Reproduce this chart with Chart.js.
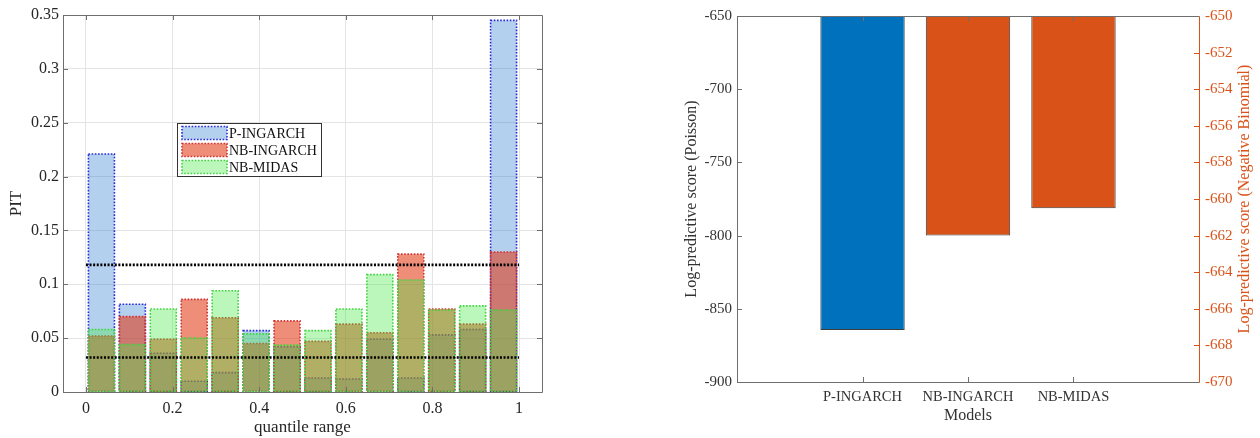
<!DOCTYPE html>
<html>
<head>
<meta charset="utf-8">
<script src="https://cdn.jsdelivr.net/npm/chart.js@4.4.1/dist/chart.umd.min.js"></script>
<style>
  html, body { margin: 0; padding: 0; background: #fff; }
  #wrap { position: relative; width: 1260px; height: 438px; }
  #pitBox { position: absolute; left: 0; top: 0; width: 600px; height: 438px; }
  #scoreBox { position: absolute; left: 660px; top: 0; width: 600px; height: 438px; }
</style>
</head>
<body>
<div id="wrap">
  <div id="pitBox"><canvas id="pit"></canvas></div>
  <div id="scoreBox"><canvas id="score"></canvas></div>
</div>
<script>
// ---------- PIT histogram data (14 equal bins on [0,1]) ----------
const binCount = 14;
const pitP     = [0.221, 0.0815, 0.036, 0.010, 0.018, 0.057, 0.042, 0.013, 0.012, 0.049, 0.013, 0.053, 0.058, 0.345];
const pitNB    = [0.052, 0.070, 0.049, 0.086, 0.069, 0.045, 0.066, 0.047, 0.063, 0.055, 0.128, 0.077, 0.063, 0.130];
const pitMidas = [0.058, 0.044, 0.077, 0.050, 0.094, 0.054, 0.0435, 0.057, 0.077, 0.109, 0.104, 0.076, 0.080, 0.076];
const pitBounds = [0.118, 0.032];
const pitSpan = [0, 1];
const pitXTicks = [0, 0.2, 0.4, 0.6, 0.8, 1];
const pitYTicks = [0, 0.05, 0.1, 0.15, 0.2, 0.25, 0.3, 0.35];

// ---------- log-predictive scores ----------
const models = ["P-INGARCH", "NB-INGARCH", "NB-MIDAS"];
const scorePoisson = [-864.5, null, null];
const scoreNegBin  = [null, -662.0, -660.5];
const poissonTicks = [-900, -850, -800, -750, -700, -650];
const negBinTicks  = [-670, -668, -666, -664, -662, -660, -658, -656, -654, -652, -650];

const ORANGE = "#d95319";
const AXIS = "#6e6e6e";
Chart.defaults.font.family = "'Liberation Serif', 'DejaVu Serif', serif";
Chart.defaults.color = "#262626";

// dotted bar outlines (bar elements have no borderDash of their own)
const dottedEdges = {
  id: "dottedEdges",
  afterDatasetDraw(chart, args) {
    const ds = chart.data.datasets[args.index];
    if (!ds.edgeColor) return;
    const ctx = chart.ctx;
    const a = chart.chartArea;
    ctx.save();
    ctx.beginPath();
    ctx.rect(a.left, a.top, a.right - a.left, a.bottom - a.top);
    ctx.clip();
    ctx.strokeStyle = ds.edgeColor;
    ctx.lineWidth = 1.6;
    ctx.setLineDash([1.6, 1.6]);
    args.meta.data.forEach(bar => {
      const p = bar.getProps(["x", "y", "base", "width"], true);
      ctx.strokeRect(p.x - p.width / 2, Math.min(p.y, p.base), p.width, Math.abs(p.base - p.y));
    });
    ctx.restore();
  }
};

// MATLAB style box + inward tick marks
const boxFrame = {
  id: "boxFrame",
  afterDraw(chart, args, opts) {
    const ctx = chart.ctx;
    const a = chart.chartArea;
    ctx.save();
    ctx.lineWidth = 1;
    (opts.marks || []).forEach(m => {
      const sc = chart.scales[m.scale];
      ctx.strokeStyle = m.color;
      sc.ticks.forEach(t => {
        const p = Math.round(sc.getPixelForValue(t.value)) + 0.5;
        ctx.beginPath();
        if (m.side === "left") { ctx.moveTo(a.left, p); ctx.lineTo(a.left + 5, p); }
        else if (m.side === "right") { ctx.moveTo(a.right, p); ctx.lineTo(a.right - 5, p); }
        else if (m.side === "bottom") { ctx.moveTo(p, a.bottom); ctx.lineTo(p, a.bottom - 5); }
        else { ctx.moveTo(p, a.top); ctx.lineTo(p, a.top + 5); }
        ctx.stroke();
      });
    });
    const f = opts.frame || {};
    const L = Math.round(a.left) + 0.5, R = Math.round(a.right) + 0.5;
    const T = Math.round(a.top) + 0.5, B = Math.round(a.bottom) + 0.5;
    [["top", L, T, R, T], ["bottom", L, B, R, B], ["left", L, T, L, B], ["right", R, T, R, B]].forEach(s => {
      if (!f[s[0]]) return;
      ctx.strokeStyle = f[s[0]];
      ctx.beginPath(); ctx.moveTo(s[1], s[2]); ctx.lineTo(s[3], s[4]); ctx.stroke();
    });
    ctx.restore();
  }
};

// legend box placed inside the plot
const boxLegend = {
  id: "boxLegend",
  afterDraw(chart, args, opts) {
    if (!opts.show) return;
    const ctx = chart.ctx;
    const items = chart.data.datasets.filter(d => d.edgeColor);
    ctx.save();
    ctx.fillStyle = "#fff";
    ctx.fillRect(opts.x, opts.y, opts.w, opts.h);
    ctx.strokeStyle = "#333";
    ctx.lineWidth = 1;
    ctx.strokeRect(opts.x + 0.5, opts.y + 0.5, opts.w, opts.h);
    ctx.font = "14px 'Liberation Serif', serif";
    ctx.textBaseline = "middle";
    items.forEach((d, i) => {
      const cy = opts.y + 10 + i * 17;
      ctx.fillStyle = d.backgroundColor;
      ctx.fillRect(opts.x + 5, cy - 6.5, 45, 13);
      ctx.strokeStyle = d.edgeColor;
      ctx.lineWidth = 1.6;
      ctx.setLineDash([1.6, 1.6]);
      ctx.strokeRect(opts.x + 5, cy - 6.5, 45, 13);
      ctx.setLineDash([]);
      ctx.fillStyle = "#111";
      ctx.fillText(d.label, opts.x + 52, cy + 1);
    });
    ctx.restore();
  }
};

// right-hand axis title reading bottom-to-top like MATLAB yyaxis
const sideTitle = {
  id: "sideTitle",
  afterDraw(chart, args, opts) {
    if (!opts.text) return;
    const ctx = chart.ctx;
    const a = chart.chartArea;
    ctx.save();
    ctx.translate(opts.x, (a.top + a.bottom) / 2);
    ctx.rotate(-Math.PI / 2);
    ctx.font = "16px 'Liberation Serif', serif";
    ctx.fillStyle = opts.color;
    ctx.textAlign = "center";
    ctx.textBaseline = "middle";
    ctx.fillText(opts.text, 0, 0);
    ctx.restore();
  }
};

//
// ==========  PIT histogram  ==========
//
const binCentre = i => (i + 0.5) / binCount;
const toPoints = arr => arr.map((v, i) => ({ x: binCentre(i), y: v }));

new Chart(document.getElementById("pit"), {
  type: "bar",
  plugins: [dottedEdges, boxFrame, boxLegend],
  data: {
    datasets: [
      { label: "P-INGARCH", data: toPoints(pitP), backgroundColor: "rgba(40,120,210,0.35)", edgeColor: "#2a2ad6", order: 3 },
      { label: "NB-INGARCH", data: toPoints(pitNB), backgroundColor: "rgba(225,50,10,0.55)", edgeColor: "#d23232", order: 2 },
      { label: "NB-MIDAS", data: toPoints(pitMidas), backgroundColor: "rgba(70,230,70,0.37)", edgeColor: "#3ed63e", order: 1 },
      ...pitBounds.map(b => ({
        type: "line",
        data: pitSpan.map(x => ({ x, y: b })),
        borderColor: "#000",
        borderWidth: 2.6,
        borderDash: [2, 1.6],
        pointRadius: 0,
        order: 0
      }))
    ]
  },
  options: {
    responsive: true,
    maintainAspectRatio: false,
    animation: false,
    devicePixelRatio: 1,
    layout: { padding: { top: 15, right: 58, left: 0, bottom: 0 } },
    datasets: { bar: { grouped: false, categoryPercentage: 1, barPercentage: 0.84, borderWidth: 0 } },
    plugins: {
      legend: { display: false },
      tooltip: { enabled: false },
      boxLegend: { show: true, x: 177, y: 123, w: 144, h: 53 },
      boxFrame: {
        frame: { top: AXIS, bottom: AXIS, left: AXIS, right: AXIS },
        marks: [
          { scale: "y", side: "left", color: AXIS }, { scale: "y", side: "right", color: AXIS },
          { scale: "x", side: "bottom", color: AXIS }, { scale: "x", side: "top", color: AXIS }
        ]
      }
    },
    scales: {
      x: {
        type: "linear", min: -0.053, max: 1.053, offset: false,
        grid: { offset: false, color: "#e4e4e4", drawTicks: false },
        border: { display: false },
        ticks: { padding: 7, font: { size: 16 }, callback: v => String(v) },
        afterBuildTicks: ax => { ax.ticks = pitXTicks.map(v => ({ value: v })); },
        afterFit: ax => { ax.height = 46; },
        title: { display: true, text: "quantile range", font: { size: 17 }, padding: { top: 0, bottom: 0 } }
      },
      y: {
        min: 0, max: 0.35,
        grid: { color: "#e4e4e4", drawTicks: false },
        border: { display: false },
        ticks: { padding: 4, font: { size: 16 }, callback: v => String(v) },
        afterBuildTicks: ax => { ax.ticks = pitYTicks.map(v => ({ value: v })); },
        afterFit: ax => { ax.width = 63; },
        title: { display: true, text: "PIT", font: { size: 17 }, padding: { top: 6, bottom: 0 } }
      }
    }
  }
});

//
// ==========  Log-predictive scores  ==========
//
const toModelPoints = arr => arr.map((v, i) => ({ x: i + 1, y: v }));

new Chart(document.getElementById("score"), {
  type: "bar",
  plugins: [boxFrame, sideTitle],
  data: {
    datasets: [
      { label: "Poisson", data: toModelPoints(scorePoisson), yAxisID: "y", backgroundColor: "#0072bd" },
      { label: "Negative Binomial", data: toModelPoints(scoreNegBin), yAxisID: "y1", backgroundColor: ORANGE }
    ]
  },
  options: {
    responsive: true,
    maintainAspectRatio: false,
    animation: false,
    devicePixelRatio: 1,
    layout: { padding: { top: 16, right: 0, left: 0, bottom: 0 } },
    datasets: { bar: { grouped: false, categoryPercentage: 1, barPercentage: 0.8, borderWidth: 1, borderColor: "#3c3c3c", borderSkipped: false } },
    plugins: {
      legend: { display: false },
      tooltip: { enabled: false },
      sideTitle: { text: "Log-predictive score (Negative Binomial)", color: ORANGE, x: 585 },
      boxFrame: {
        frame: { top: AXIS, bottom: AXIS, left: AXIS, right: ORANGE },
        marks: [
          { scale: "y", side: "left", color: AXIS }, { scale: "y1", side: "right", color: ORANGE },
          { scale: "x", side: "bottom", color: AXIS }, { scale: "x", side: "top", color: AXIS }
        ]
      }
    },
    scales: {
      x: {
        type: "linear", min: -0.19, max: 4.19, offset: false,
        grid: { display: false, offset: false, drawTicks: false },
        border: { display: false },
        ticks: { padding: 6, font: { size: 14.5 }, color: "#333", callback: v => models[v - 1] },
        afterBuildTicks: ax => { ax.ticks = models.map((m, i) => ({ value: i + 1 })); },
        afterFit: ax => { ax.height = 56; },
        title: { display: true, text: "Models", font: { size: 16 }, color: "#333", padding: { top: 0, bottom: 13 } }
      },
      y: {
        position: "left", min: -900, max: -650,
        grid: { display: false, drawTicks: false },
        border: { display: false },
        ticks: { padding: 5, font: { size: 15 }, color: "#333", callback: v => String(v) },
        afterBuildTicks: ax => { ax.ticks = poissonTicks.map(v => ({ value: v })); },
        afterFit: ax => { ax.width = 77; },
        title: { display: true, text: "Log-predictive score (Poisson)", font: { size: 16 }, color: "#333", padding: { top: 22, bottom: 0 } }
      },
      y1: {
        position: "right", min: -670, max: -650,
        grid: { display: false, drawTicks: false },
        border: { display: false },
        ticks: { padding: 6, font: { size: 15 }, color: ORANGE, callback: v => String(v) },
        afterBuildTicks: ax => { ax.ticks = negBinTicks.map(v => ({ value: v })); },
        afterFit: ax => { ax.width = 61; }
      }
    }
  }
});
</script>
</body>
</html>
